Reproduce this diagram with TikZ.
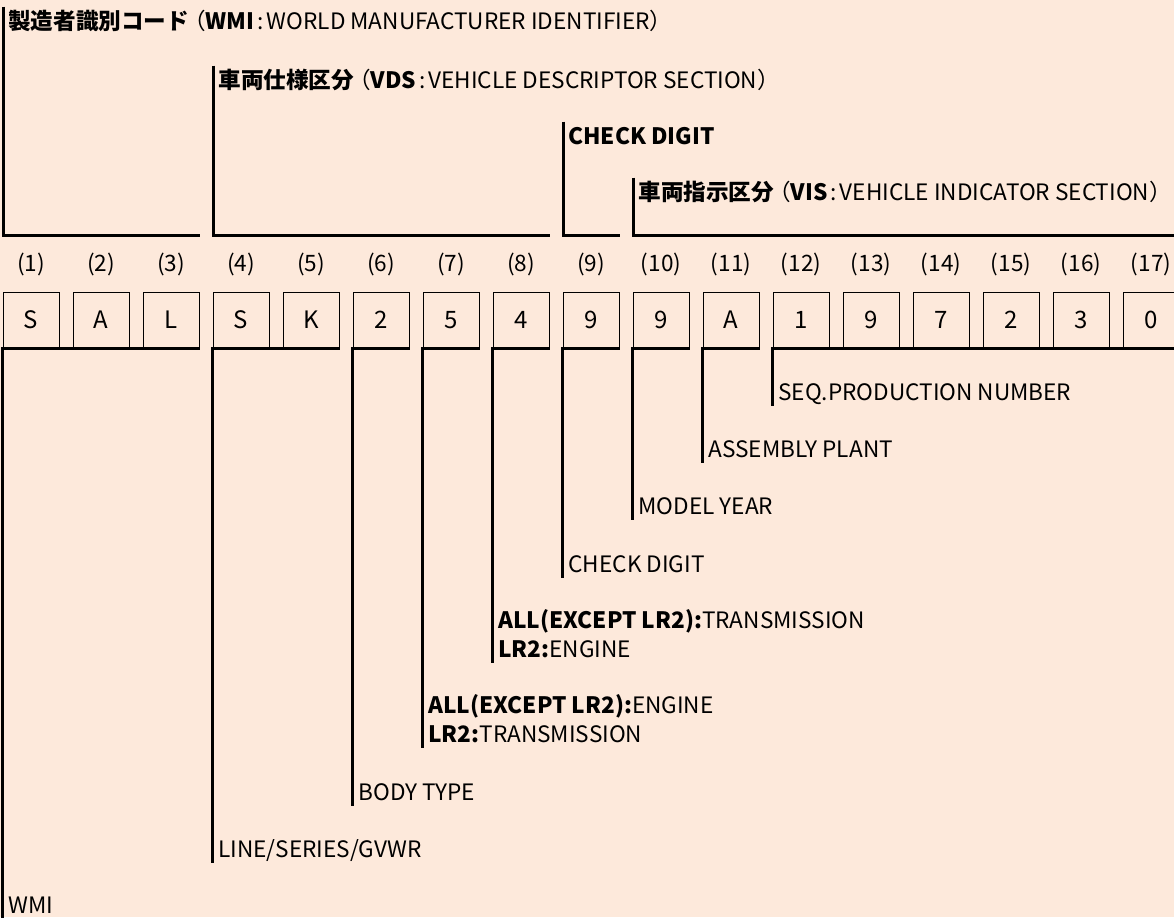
\documentclass[tikz,border=0pt]{standalone}
\usepackage{fontspec}
\setmainfont{Noto Sans CJK JP}
\definecolor{peach}{RGB}{253,233,219}
\newcommand{\sep}{\hspace{1.5pt}:\hspace{1.5pt}}
\newcommand{\lpar}{\kern-3pt（}
\newcommand{\rpar}{）\kern-5pt}
\tikzset{
  digit/.style={draw, line width=0.5pt, minimum size=28pt, inner sep=0pt, font=\fontsize{12}{13}\selectfont},
  idx/.style={font=\fontsize{11.3}{13}\selectfont},
  bracket/.style={line width=1.5pt},
  tag/.style={anchor=base west, inner xsep=2.5pt, inner ysep=0pt, text height=11pt, text depth=3pt, font=\fontsize{11.3}{13}\selectfont},
}
\begin{document}
\begin{tikzpicture}[x=0.5pt,y=-0.5pt]
    \fill[peach] (0,0) rectangle (1174,917);
    \useasboundingbox (0,0) rectangle (1174,917);

    % Caratteri del VIN
    \foreach \c [count=\i] in {S,A,L,S,K,2,5,4,9,9,A,1,9,7,2,3,0} {
        \node[digit] (b\i) at ({31+70*(\i-1)},320) {\c};
        \node[idx] (n\i) at ({31+70*(\i-1)},264) {(\i)};
    }

    % Sezioni in alto
    \coordinate (top) at (0,235);
    \node[tag] (wmihd) at (3,29) {\textbf{製造者識別コード}\lpar\textbf{WMI}\sep WORLD MANUFACTURER IDENTIFIER\rpar};
    \node[tag] (vdshd) at (213,88) {\textbf{車両仕様区分}\lpar\textbf{VDS}\sep VEHICLE DESCRIPTOR SECTION\rpar};
    \node[tag] (chkhd) at (563,144) {\textbf{CHECK DIGIT}};
    \node[tag] (vishd) at (633,200) {\textbf{車両指示区分}\lpar\textbf{VIS}\sep VEHICLE INDICATOR SECTION\rpar};

    \draw[bracket] (wmihd.north west) -- (wmihd.north west |- top) -- (b3.east |- top);
    \draw[bracket] (vdshd.north west) -- (vdshd.north west |- top) -- (b8.east |- top);
    \draw[bracket] (chkhd.north west) -- (chkhd.north west |- top) -- (b9.east |- top);
    \draw[bracket] (vishd.north west) -- (vishd.north west |- top) -- (b17.east |- top);

    % Significato dei caratteri
    \node[tag] (seq) at (773,400) {SEQ.PRODUCTION NUMBER};
    \node[tag] (plant) at (703,457) {ASSEMBLY PLANT};
    \node[tag] (year) at (633,514) {MODEL YEAR};
    \node[tag] (chk) at (563,572) {CHECK DIGIT};
    \node[tag] (trn1) at (493,628) {\textbf{ALL(EXCEPT LR2):}TRANSMISSION};
    \node[tag] (trn2) at (493,657) {\textbf{LR2:}ENGINE};
    \node[tag] (eng1) at (423,713) {\textbf{ALL(EXCEPT LR2):}ENGINE};
    \node[tag] (eng2) at (423,742) {\textbf{LR2:}TRANSMISSION};
    \node[tag] (body) at (353,800) {BODY TYPE};
    \node[tag] (line) at (213,857) {LINE/SERIES/GVWR};
    \node[tag] (wmi) at (3,913) {WMI};

    \draw[bracket] (b17.south east) -- (b12.south west) -- (b12.south west |- seq.south);
    \draw[bracket] (b11.south east) -- (b11.south west) -- (b11.south west |- plant.south);
    \draw[bracket] (b10.south east) -- (b10.south west) -- (b10.south west |- year.south);
    \draw[bracket] (b9.south east) -- (b9.south west) -- (b9.south west |- chk.south);
    \draw[bracket] (b8.south east) -- (b8.south west) -- (b8.south west |- trn2.south);
    \draw[bracket] (b7.south east) -- (b7.south west) -- (b7.south west |- eng2.south);
    \draw[bracket] (b6.south east) -- (b6.south west) -- (b6.south west |- body.south);
    \draw[bracket] (b5.south east) -- (b4.south west) -- (b4.south west |- line.south);
    \draw[bracket] (b3.south east) -- (b1.south west) -- (b1.south west |- wmi.south);
\end{tikzpicture}
\end{document}
